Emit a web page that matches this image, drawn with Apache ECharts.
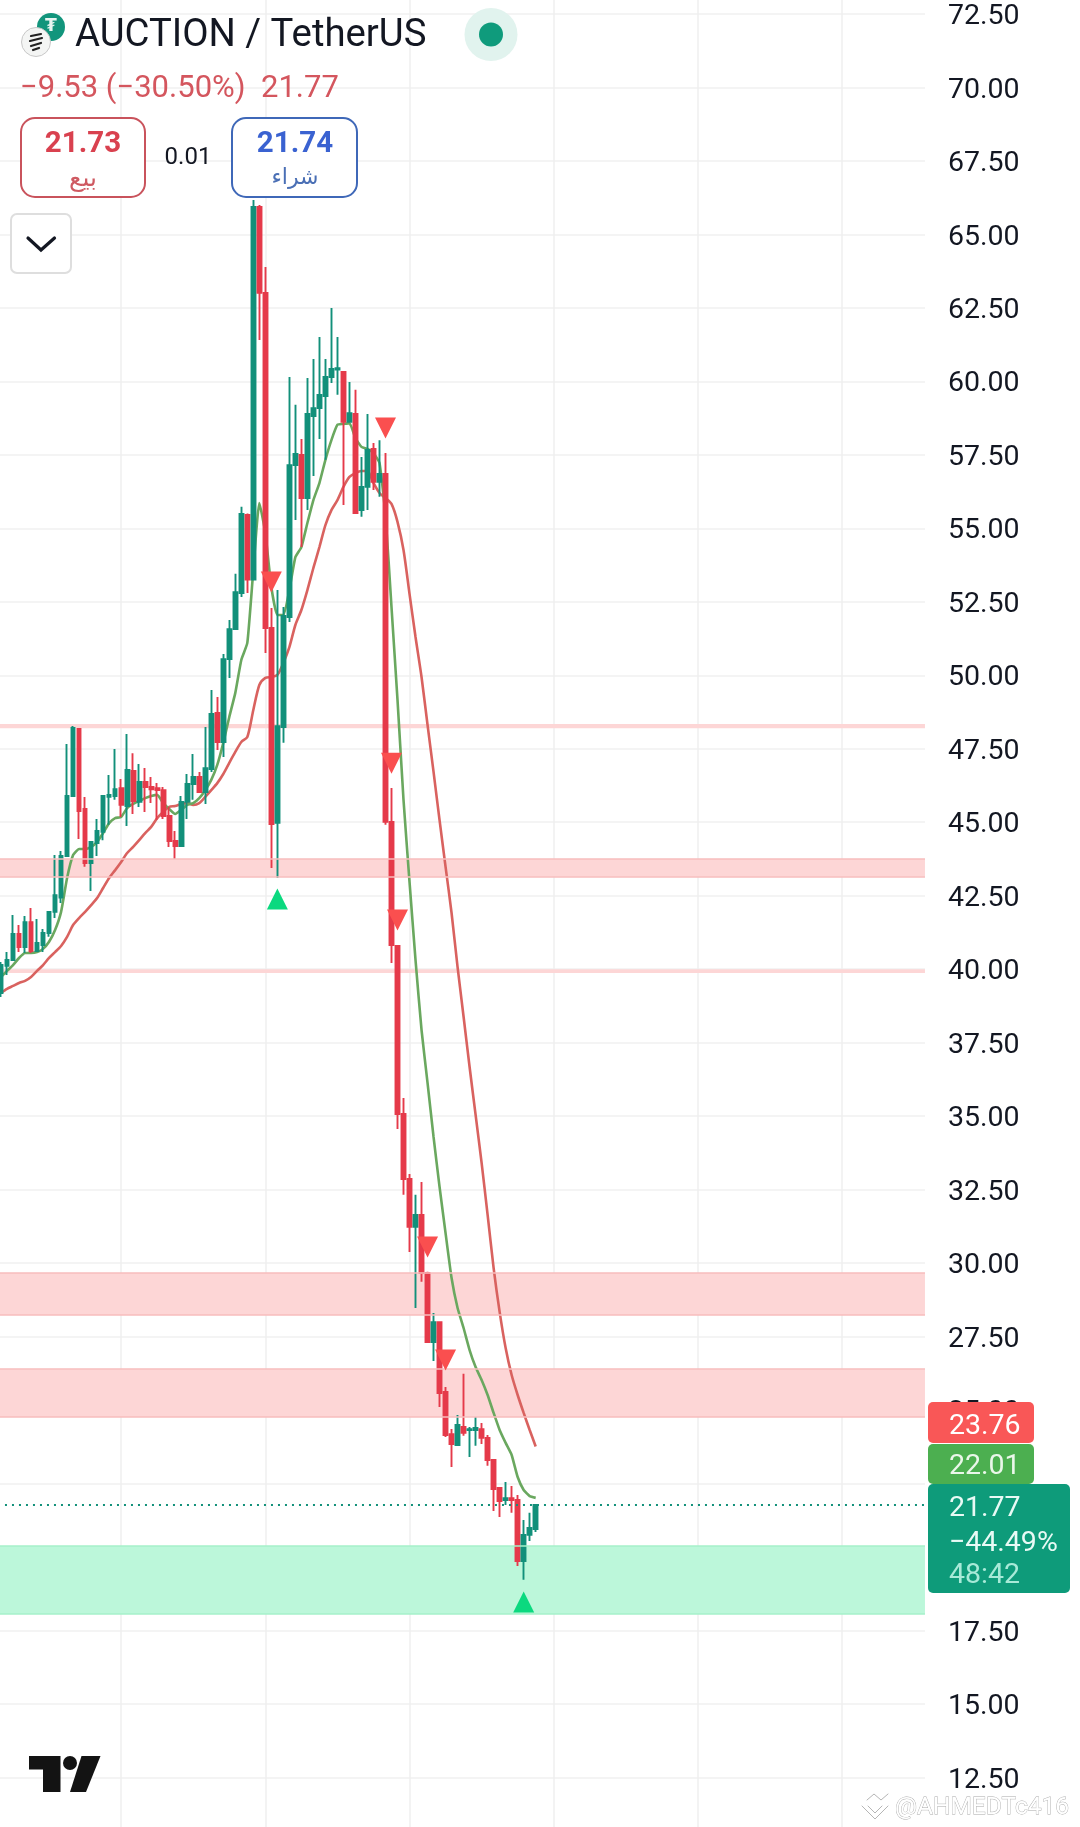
<!DOCTYPE html>
<html>
<head>
<meta charset="utf-8">
<style>html,body{margin:0;padding:0;background:#fff}#c{width:1080px;height:1827px}</style>
<script src="https://cdn.jsdelivr.net/npm/echarts@6/dist/echarts.min.js"></script>
</head>
<body>
<div id="c"></div>
<script>
// [open, close, low, high] per candle
const candles = [
[39.19,40.14,39.05,40.24],[40.11,40.31,39.80,40.58],[40.31,41.20,40.30,41.84],[41.20,40.75,40.58,41.50],[40.75,41.60,40.55,41.81],
[41.60,40.62,40.55,42.08],[40.62,40.89,40.58,41.71],[40.82,41.23,40.58,41.37],[41.23,41.95,41.10,41.98],[41.95,42.52,41.74,43.88],
[42.44,43.85,42.25,44.02],[43.85,45.89,43.82,47.66],[45.89,48.21,45.88,48.27],[48.17,45.38,44.43,48.20],[45.45,43.61,43.48,45.86],
[43.61,44.33,42.66,44.36],[44.29,44.70,43.85,45.11],[44.67,45.89,44.39,45.92],[45.86,45.93,44.91,46.61],[45.89,46.12,45.76,47.49],
[46.16,45.59,45.18,46.47],[45.55,46.78,44.87,48.00],[46.74,45.72,45.28,47.35],[45.69,46.37,45.52,46.98],[46.37,46.20,45.35,46.84],
[46.20,46.12,45.65,46.54],[46.16,46.09,45.08,46.33],[46.09,45.21,45.11,46.20],[45.21,44.36,44.16,45.52],[44.36,44.19,43.75,44.70],
[44.19,45.69,44.16,45.89],[45.69,46.30,45.11,46.64],[46.30,46.54,45.76,47.32],[46.54,46.03,46.00,46.71],[46.03,46.84,45.62,48.24],
[46.81,48.68,46.71,49.50],[48.72,47.73,47.46,49.26],[47.73,50.55,47.22,50.72],[50.55,51.57,49.91,51.88],[51.57,52.83,51.55,53.45],
[52.80,55.49,52.66,55.73],[55.45,53.26,52.80,55.50],[53.26,65.93,53.24,66.17],[65.93,63.01,61.41,66.00],[63.01,51.61,50.76,63.89],
[51.61,44.94,43.44,52.29],[44.98,48.27,43.10,52.90],[48.24,52.02,47.70,52.32],[51.98,57.15,51.81,60.15],[57.15,57.53,55.28,59.20],
[57.50,56.03,54.36,58.04],[56.03,58.89,55.62,60.11],[58.82,59.09,56.78,60.76],[59.09,59.54,58.04,61.51],[59.50,60.15,57.33,60.76],
[60.15,60.42,59.94,62.50],[60.40,60.45,59.54,61.51],[60.32,58.62,55.79,60.34],[58.62,58.92,58.60,59.98],[58.89,55.52,55.50,59.71],
[55.62,56.41,55.39,57.43],[56.41,57.67,55.62,58.89],[57.70,56.58,56.30,57.90],[56.58,56.85,56.07,58.00],[56.85,45.01,44.91,57.56],
[45.01,40.82,40.21,46.16],[40.79,35.07,34.56,40.82],[35.07,32.86,32.32,35.62],[32.86,31.23,30.38,33.03],[31.23,31.64,28.47,32.32],
[31.64,29.66,29.36,32.76],[29.66,27.31,27.28,29.70],[27.31,27.99,26.67,28.30],[27.99,25.58,25.10,28.02],[25.61,24.15,24.08,25.78],
[24.18,23.84,23.06,24.35],[23.81,24.49,23.78,24.83],[24.42,24.22,24.12,26.23],[24.32,24.35,23.40,24.42],[24.32,24.39,23.78,24.76],
[24.35,24.05,23.84,24.56],[24.05,23.30,23.10,24.15],[23.30,22.31,21.56,23.32],[22.35,21.90,21.36,22.37],[21.94,22.00,21.77,22.55],
[22.00,21.94,21.50,22.41],[21.94,19.86,19.69,22.11],[19.86,20.75,19.22,21.26],[20.75,20.99,20.54,21.50],[20.95,21.77,20.85,21.80]
];
const fastMA = [39.73,39.94,40.14,40.38,40.55,40.55,40.58,40.69,40.93,41.33,41.95,43.10,43.88,44.09,44.09,44.16,44.33,44.63,44.97,45.14,45.18,45.48,45.62,45.72,45.82,45.89,45.93,45.65,45.45,45.28,45.42,45.59,45.65,45.82,46.09,46.44,46.95,47.70,48.58,49.40,50.52,51.10,53.58,55.86,54.84,53.00,52.05,52.05,52.90,54.02,54.36,55.18,55.96,56.54,57.33,58.00,58.52,58.55,58.58,58.07,57.77,57.70,57.56,57.22,55.45,52.32,49.16,45.76,42.97,40.31,37.93,36.13,34.29,32.59,31.02,29.49,28.47,27.79,27.04,26.46,26.02,25.51,24.90,24.32,23.88,23.47,22.72,22.28,22.07,22.01];
const slowMA = [39.19,39.33,39.43,39.53,39.60,39.73,39.94,40.14,40.38,40.58,40.79,41.10,41.50,41.74,41.95,42.18,42.42,42.76,43.10,43.37,43.65,43.95,44.16,44.39,44.63,44.84,45.14,45.35,45.52,45.55,45.62,45.65,45.59,45.65,45.86,46.09,46.33,46.64,47.02,47.39,47.73,47.90,48.82,49.67,49.91,49.94,50.01,50.42,50.96,51.71,52.22,52.90,53.65,54.36,55.11,55.62,55.96,56.41,56.75,56.88,56.95,56.95,56.54,56.20,56.03,55.83,55.22,54.26,52.77,51.30,49.94,48.31,46.71,45.07,43.48,41.91,40.07,38.38,36.67,35.04,33.41,31.64,29.83,28.34,27.11,26.19,25.51,24.90,24.32,23.76];
const resistanceZones = [[48.20,48.34],[43.14,43.75],[39.87,40.00],[28.23,29.66],[24.76,26.39]];
const supportZones = [[18.06,20.37]];
const sellSignals = [[64,58.41],[45,53.17],[65,47.01],[66,41.67],[71,30.55],[74,26.70]];
const buySignals = [[46,42.39],[87,18.47]];
const lastPrice = 21.77;
const title = 'AUCTION / TetherUS';
const changeText = '−9.53 (−30.50%)';
const bid = '21.73', ask = '21.74', spread = '0.01', bidLabel = 'بيع', askLabel = 'شراء';
const slowTag = '23.76', fastTag = '22.01', lastTag = ['21.77','−44.49%','48:42'];

const UP='#12907a', DOWN='#e53a4a', F='Roboto, sans-serif', AR='"DejaVu Sans", sans-serif';
const zoneFill = (zones, fill, edge, name) => ({
  type:'line', name, data:[], z:1, silent:true, symbol:'none',
  markArea:{silent:true, itemStyle:{color:fill}, data:zones.map(z=>[{yAxis:z[0]},{yAxis:z[1]}])},
  markLine:{silent:true, symbol:'none', label:{show:false}, lineStyle:{color:edge,width:1.6,type:'solid'}, data:zones.flatMap(z=>z[1]-z[0]>0.3?[{yAxis:z[0]},{yAxis:z[1]}]:[])}
});
const txt = (x,y,text,size,fill,extra={}) => ({type:'text',x,y,z:100,style:Object.assign({text,font:`${extra.weight||'normal'} ${size}px ${extra.family||F}`,fill,textAlign:extra.align||'left',textVerticalAlign:'middle'},extra.style||{})});
const rect = (x,y,w,h,r,fill,stroke,lw) => ({type:'rect',z:99,shape:{x,y,width:w,height:h,r},style:{fill,stroke,lineWidth:lw||0}});
const poly = (pts,fill) => ({type:'polygon',z:100,shape:{points:pts},style:{fill}});
const stroke = (pts,color,lw) => ({type:'polyline',z:100,shape:{points:pts},style:{stroke:color,lineWidth:lw,fill:null,lineCap:'round'}});

const graphics = [
  {type:'circle',z:99,shape:{cx:51,cy:27,r:14},style:{fill:'#12957c'}},
  txt(51,27,'₮',17,'#e7f5f1',{align:'center',family:AR,weight:'bold'}),
  {type:'circle',z:100,shape:{cx:36,cy:42,r:14.5},style:{fill:'#f4f5f4',stroke:'#c8c8c8',lineWidth:1}},
  stroke([[31,36],[41,34]],'#222',2.2),stroke([[30,41],[42,38]],'#222',2.2),stroke([[31,46],[41,43]],'#222',2.2),stroke([[33,50],[39,48]],'#222',2.2),
  txt(75,36.5,title,38.3,'#131722'),
  {type:'circle',z:99,shape:{cx:491,cy:34.5,r:26.5},style:{fill:'#e1f3ee'}},
  {type:'circle',z:100,shape:{cx:491,cy:34.5,r:12},style:{fill:'#0f9b7c'}},
  txt(20,89,changeText,31,'#d4565e'),
  txt(261,89,lastTag[0],31,'#d4565e'),
  rect(21,118,124,79,14,'#fff','#c9535c',2),
  txt(83,145,bid,29.5,'#d9414f',{align:'center',weight:'bold'}),
  txt(83,179,bidLabel,25,'#cf5a62',{align:'center',family:AR}),
  txt(188,158,spread,24,'#131722',{align:'center'}),
  rect(232,118,125,79,14,'#fff','#3f68b8',2),
  txt(295,145,ask,29.5,'#3a62d1',{align:'center',weight:'bold'}),
  txt(295,178,askLabel,22,'#4a6fb5',{align:'center',family:AR}),
  rect(11,214,60,59,6,'#fff','#dedede',2),
  stroke([[28,238],[41,250],[54.5,238]],'#131722',3.2),
  poly([[29,1756],[60.5,1756],[60.5,1792],[43,1792],[43,1769.5],[29,1769.5]],'#131313'),
  {type:'circle',z:100,shape:{cx:70,cy:1763,r:7},style:{fill:'#131313'}},
  poly([[81.5,1756],[100.5,1756],[86,1792],[70,1792]],'#131313'),
  rect(928,1402,106,41,5,'#f95757',null,0),
  rect(928,1444,106,40,5,'#4caf50',null,0),
  rect(928,1484,142,109,5,'#0e9b7a',null,0),
  txt(949,1427,slowTag,28.5,'#fff'),
  txt(949,1467,fastTag,28.5,'#eaf7ea'),
  txt(949,1508.5,lastTag[0],28.5,'#e8faf5'),
  txt(949,1543.5,lastTag[1],28.5,'#e8faf5'),
  txt(949,1575.5,lastTag[2],28.5,'#a8ead8'),
  txt(895,1808,'@AHMEDTc416',24.5,'#ffffff',{style:{stroke:'#a9a9a9',lineWidth:0.8}}),
  stroke([[867,1800],[874,1794],[881,1800],[888,1794]],'#b5b5b5',1),
  stroke([[862,1806],[875,1819],[888,1806]],'#b5b5b5',1),
  stroke([[868,1806],[875,1813],[882,1806]],'#b5b5b5',1)
];

const chart = echarts.init(document.getElementById('c'),null,{renderer:'canvas',width:1080,height:1827});
chart.setOption({
  animation:false,
  backgroundColor:'#ffffff',
  grid:{left:-23.03,top:-59.5,width:948,height:1910.35,containLabel:false,outerBoundsMode:'none'},
  xAxis:{type:'value',min:-4,max:153.8,interval:24,axisLine:{show:false},axisTick:{show:false},axisLabel:{show:false},
    splitLine:{show:true,showMinLine:false,showMaxLine:false,lineStyle:{color:'#efefef',width:1.5}}},
  yAxis:{type:'value',position:'right',min:10,max:75,interval:2.5,axisLine:{show:false},axisTick:{show:false},
    axisLabel:{show:true,margin:23,color:'#131722',fontFamily:F,fontSize:28.5,formatter:v=>'{a|'+v.toFixed(2)+'}',
      rich:{a:{fontFamily:F,fontSize:28.5,color:'#131722',padding:[6,0,0,0]}}},
    splitLine:{show:true,lineStyle:{color:'#f0f0f0',width:1.5}}},
  series:[
    zoneFill(resistanceZones,'#fdd6d6','#f7bcbc','resistance'),
    zoneFill(supportZones,'#bcf7da','#a6f0ca','support'),
    {type:'line',name:'slow',data:slowMA.map((v,i)=>[i,v]),showSymbol:false,z:3,smooth:0.25,lineStyle:{color:'#d9625f',width:2.6}},
    {type:'line',name:'fast',data:fastMA.map((v,i)=>[i,v]),showSymbol:false,z:3,smooth:0.15,lineStyle:{color:'#6aa85f',width:2.6}},
    {type:'candlestick',name:'price',z:4,barWidth:4.2,
      data:candles.map((c,i)=>[i,c[0],c[1],c[2],c[3]]),
      itemStyle:{color:UP,color0:DOWN,borderColor:UP,borderColor0:DOWN,borderWidth:1.9},
      markLine:{silent:true,symbol:'none',label:{show:false},lineStyle:{color:UP,width:2,type:[2,5]},data:[{yAxis:lastPrice}]}},
    {type:'scatter',name:'sell',z:6,symbol:'triangle',symbolSize:[21,21],symbolRotate:180,data:sellSignals,itemStyle:{color:'#fa4f4f',opacity:1}},
    {type:'scatter',name:'buy',z:6,symbol:'triangle',symbolSize:[21,21],data:buySignals,itemStyle:{color:'#0bd97f',opacity:1}}
  ],
  graphic:{elements:graphics}
});
</script>
</body>
</html>
